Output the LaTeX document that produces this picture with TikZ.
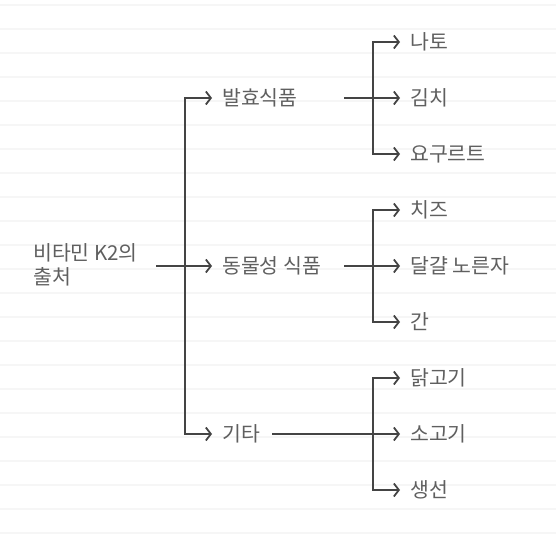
\documentclass[tikz,border=0pt]{standalone}
\usepackage{fontspec}
\setmainfont{Noto Sans CJK KR}
\usetikzlibrary{arrows.meta}
\definecolor{linecolor}{RGB}{68,68,68}
\definecolor{labelcolor}{RGB}{95,95,95}
\definecolor{rulecolor}{RGB}{246,246,246}

\begin{document}
\begin{tikzpicture}[
    x=1pt, y=-1pt,
    item/.style={anchor=west, inner xsep=10pt, inner ysep=2pt, text=labelcolor, font=\fontsize{20.5}{24}\selectfont, align=left},
    line/.style={draw=linecolor, line width=1.8pt},
    arrow/.style={line, -{Straight Barb[length=5pt, width=13pt, line width=1.8pt]}},
    rule/.style={draw=rulecolor, line width=1.2pt}
]
    \useasboundingbox (0,0) rectangle (556,534);
    \foreach \y in {5,29,...,533}
        \draw[rule] (0,\y) -- (556,\y);

    % root and first level
    \node[item] (root) at (23,265) {비타민 K2의\\출처};
    \node[item] (ferm) at (212,98) {발효식품};
    \node[item] (animal) at (212,266) {동물성 식품};
    \node[item] (other) at (212,434) {기타};

    % second level
    \node[item] (natto) at (400,42) {나토};
    \node[item] (kimchi) at (400,98) {김치};
    \node[item] (yogurt) at (400,154) {요구르트};
    \node[item] (cheese) at (400,210) {치즈};
    \node[item] (yolk) at (400,266) {달걀 노른자};
    \node[item] (liver) at (400,322) {간};
    \node[item] (chicken) at (400,378) {닭고기};
    \node[item] (beef) at (400,434) {소고기};
    \node[item] (fish) at (400,490) {생선};

    % branch points
    \coordinate (root-out) at (156,266);
    \coordinate (j0) at (185,266);
    \coordinate (ferm-out) at (344,98);
    \coordinate (animal-out) at (344,266);
    \coordinate (other-out) at (272,434);
    \coordinate (j1) at (373,98);
    \coordinate (j2) at (373,266);
    \coordinate (j3) at (373,434);

    \draw[line] (root-out) -- (j0);
    \draw[arrow] (j0) |- (ferm);
    \draw[arrow] (j0) -- (animal);
    \draw[arrow] (j0) |- (other);

    \draw[line] (ferm-out) -- (j1);
    \draw[arrow] (j1) |- (natto);
    \draw[arrow] (j1) -- (kimchi);
    \draw[arrow] (j1) |- (yogurt);

    \draw[line] (animal-out) -- (j2);
    \draw[arrow] (j2) |- (cheese);
    \draw[arrow] (j2) -- (yolk);
    \draw[arrow] (j2) |- (liver);

    \draw[line] (other-out) -- (j3);
    \draw[arrow] (j3) |- (chicken);
    \draw[arrow] (j3) -- (beef);
    \draw[arrow] (j3) |- (fish);
\end{tikzpicture}
\end{document}
